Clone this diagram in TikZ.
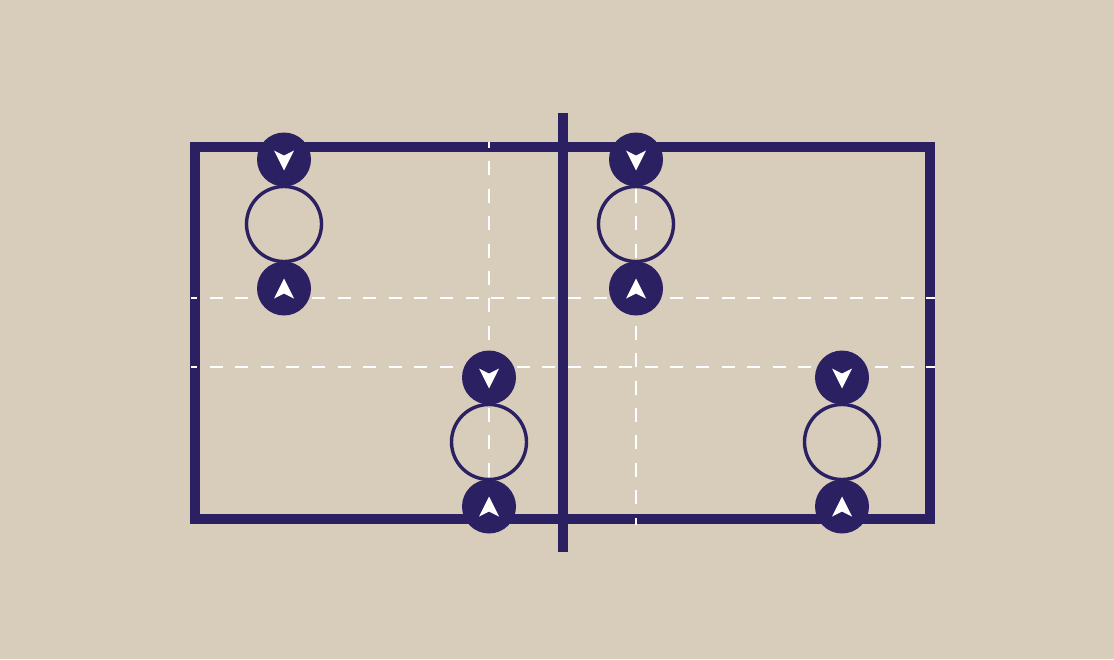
\documentclass[tikz,border=0pt]{standalone}
\usetikzlibrary{positioning}
\definecolor{navy}{RGB}{42,32,98}
\definecolor{sand}{RGB}{216,205,187}
\tikzset{
    % court and net lines
    court/.style={draw=navy, line width=10pt},
    % zone lines
    zone/.style={draw=white, line width=2.8pt, dash pattern=on 13pt off 12.6pt, dash phase=7pt},
    zonev/.style={draw=white, line width=2.8pt, dash pattern=on 14pt off 13.4pt, dash phase=8pt},
}
\newcommand{\ringsize}{75pt}
\newcommand{\dotsize}{54pt}

\begin{document}
\begin{tikzpicture}[x=1pt, y=-1pt, node distance=0pt, outer sep=0pt]
\tikzstyle{ring}=[draw=navy, circle, line width=3.4pt, minimum size=\ringsize, inner sep=0pt]
\tikzstyle{godown}=[circle, fill=navy, minimum size=\dotsize, inner sep=0pt,
    path picture={\fill[white] ([yshift=-11pt]path picture bounding box.center) -- ++(-10pt,20pt) -- ++(10pt,-5pt) -- ++(10pt,5pt) -- cycle;}]
\tikzstyle{goup}=[circle, fill=navy, minimum size=\dotsize, inner sep=0pt,
    path picture={\fill[white] ([yshift=10pt]path picture bounding box.center) -- ++(-10pt,-20pt) -- ++(10pt,5pt) -- ++(10pt,-5pt) -- cycle;}]

\fill[sand] (0,0) rectangle (1114,659);
\useasboundingbox (0,0) rectangle (1114,659);

% court
\draw[court] (195,147) rectangle (930,519);
\draw[court] (563,113) -- (563,552);

% zones
\draw[zone] (191,298) -- (935,298);
\draw[zone] (191,367) -- (935,367);
\draw[zonev] (489,142) -- (489,525);
\draw[zonev] (636,142) -- (636,525);

% players
\node[ring] (ring1) at (284,224) {};
\node[ring] (ring2) at (636,224) {};
\node[ring] (ring3) at (489,442) {};
\node[ring] (ring4) at (842,442) {};

\node[godown] (top1) [above = 0pt of ring1] {};
\node[godown] (top2) [above = 0pt of ring2] {};
\node[godown] (top3) [above = 0pt of ring3] {};
\node[godown] (top4) [above = 0pt of ring4] {};

\node[goup] (bot1) [below = 0pt of ring1] {};
\node[goup] (bot2) [below = 0pt of ring2] {};
\node[goup] (bot3) [below = 0pt of ring3] {};
\node[goup] (bot4) [below = 0pt of ring4] {};

\end{tikzpicture}
\end{document}
